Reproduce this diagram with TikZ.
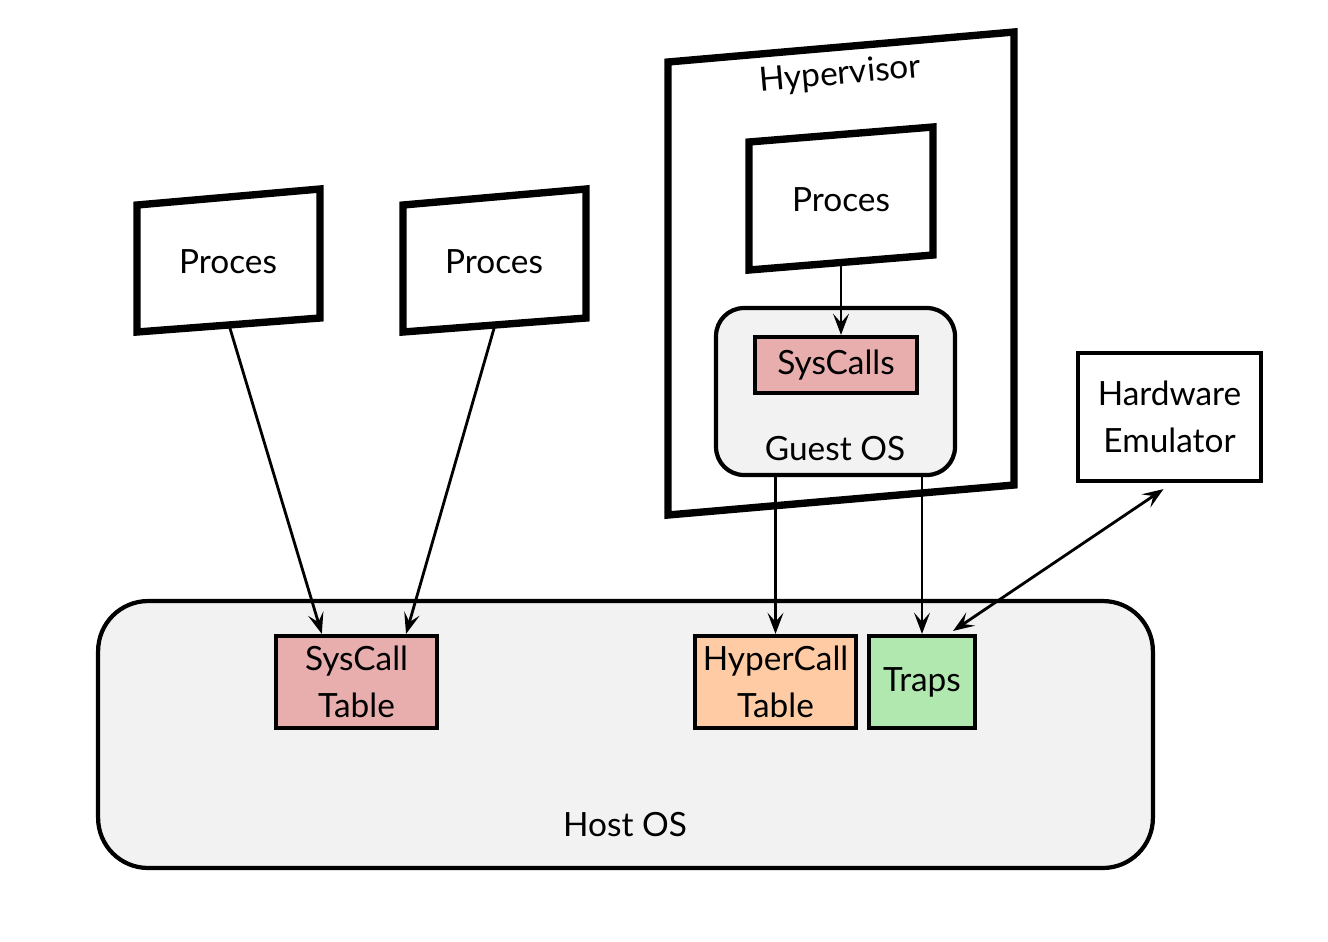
\documentclass[tikz,border=0pt]{standalone}
\usepackage{fontspec}
\setsansfont{Lato}
\usetikzlibrary{arrows.meta, calc, positioning}

\definecolor{osgray}{HTML}{F2F2F2}
\definecolor{callpink}{HTML}{E8AEAE}
\definecolor{hyperorange}{HTML}{FECBA5}
\definecolor{trapgreen}{HTML}{B0E8B0}

\begin{document}
\begin{tikzpicture}[x=0.02cm, y=-0.02cm,
  every node/.style={font=\sffamily\fontsize{19}{26.6}\selectfont},
  frame/.style={line width=4.2pt, line join=miter},
  osbox/.style={draw, line width=2.4pt, fill=osgray},
  tablebox/.style={draw, line width=2.4pt, inner sep=0pt, align=center},
  conn/.style={line width=1.6pt, -{Stealth[length=12pt, width=9pt, inset=5pt]}}]
\useasboundingbox (0,0) rectangle (1328,941);

% host and guest systems
\node[osbox, rounded corners=1cm, minimum width=21.1cm, minimum height=5.34cm] (host) at (625.5,734.5) {};
\node (hostlbl) at (625,825) {Host OS};

\draw[frame] (668,62) -- (1014,32) -- (1014,485) -- (668,515) -- cycle;
\node[rotate=5] (hyplbl) at (840,75) {Hypervisor};

\node[osbox, rounded corners=0.56cm, minimum width=4.78cm, minimum height=3.34cm] (guest) at (835.5,391.5) {};
\node (guestlbl) at (835,449) {Guest OS};

% process windows
\foreach \dx/\name in {0/proc1, 266/proc2}
{
  \draw[frame] (137+\dx,205) -- (320+\dx,189) -- (320+\dx,318) -- (137+\dx,332) -- cycle;
  \node (\name) at (228+\dx,262) {Proces};
  \coordinate (\name b) at (229+\dx,325);
}
\draw[frame] (749,142) -- (933,127) -- (933,255) -- (749,270) -- cycle;
\node (proc3) at (841,200) {Proces};
\coordinate (proc3b) at (841,262);

% tables
\node[tablebox, fill=callpink, minimum width=3.24cm, minimum height=1.12cm] (sys) at (836,365) {SysCalls};
\node[tablebox, fill=callpink, minimum width=3.22cm, minimum height=1.84cm] (sct) at (356.5,682) {SysCall\\Table};
\node[tablebox, fill=hyperorange, minimum width=3.22cm, minimum height=1.84cm] (hyper) at (775.5,682) {HyperCall\\Table};
\node[tablebox, fill=trapgreen, minimum width=2.12cm, minimum height=1.84cm] (traps) at (922,682) {Traps};
\node[tablebox, fill=white, minimum width=3.66cm, minimum height=2.56cm] (hw) at (1169.5,417) {Hardware\\Emulator};

% connectors
\draw[conn] (proc1b) -- ($(sct.north west)!0.29!(sct.north east)$);
\draw[conn] (proc2b) -- ($(sct.north west)!0.8!(sct.north east)$);
\draw[conn] (proc3b) -- (proc3b |- sys.north);
\draw[conn] (hyper.north |- guest.south) -- (hyper.north);
\draw[conn] (traps.north |- guest.south) -- (traps.north);
\draw[conn, {Stealth[length=12pt, width=9pt, inset=5pt]}-{Stealth[length=12pt, width=9pt, inset=5pt]}]
  ([shift={(-6,6)}]hw.south) -- ([shift={(-24,-3)}]traps.north east);
\end{tikzpicture}
\end{document}
